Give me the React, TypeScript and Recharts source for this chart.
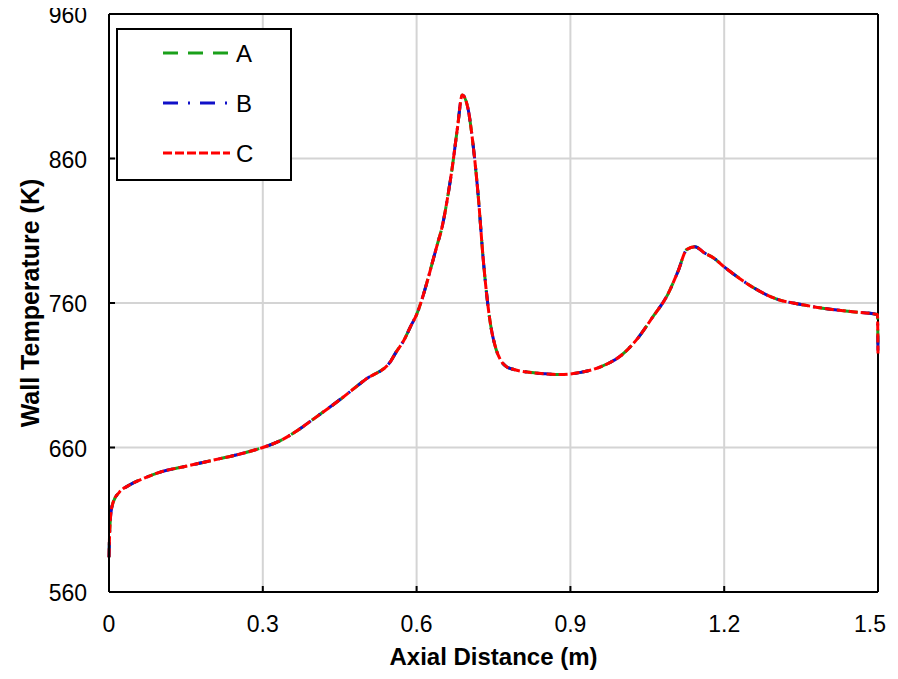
import { CartesianGrid, Label, Legend, Line, LineChart, ReferenceLine, XAxis, YAxis } from 'recharts';

// axial positions (m)
const distance = [
  0, 0.001, 0.003, 0.008, 0.02, 0.04, 0.07, 0.1, 0.15, 0.2, 0.25, 0.3, 0.33, 0.36, 0.4, 0.45, 0.5,
  0.55, 0.56, 0.575, 0.59, 0.6, 0.61, 0.62, 0.63, 0.64, 0.65, 0.66, 0.67, 0.68, 0.689, 0.7, 0.71,
  0.72, 0.73, 0.743, 0.755, 0.763, 0.775, 0.79, 0.82, 0.85, 0.88, 0.92, 0.96, 1.0, 1.03, 1.06,
  1.09, 1.11, 1.127, 1.143, 1.16, 1.18, 1.2, 1.23, 1.26, 1.3, 1.35, 1.4, 1.45, 1.499, 1.5,
];

// wall temperature (K) for each case
const caseA = [
  584, 598, 612, 622, 629, 634, 639, 643, 647, 651, 655, 660, 664, 670, 680, 693, 707,
  720, 726, 734, 745, 752, 762, 774, 787, 800, 813, 832, 855, 882, 904, 895, 870,
  835, 790, 748, 728, 721, 716, 714, 712, 711, 710.5, 712, 716, 724, 735, 750,
  766, 782, 797, 799, 795, 791, 785, 777, 770, 763, 759, 756, 754, 752, 725,
];
const caseB = [
  584, 598, 612, 622, 629, 634, 639, 643, 647, 651, 655, 660, 664, 670, 680, 693, 707,
  720, 726, 734, 745, 752, 762, 774, 787, 800, 813, 832, 855, 882, 904, 895, 870,
  835, 790, 748, 728, 721, 716, 714, 712, 711, 710.5, 712, 716, 724, 735, 750,
  766, 782, 797, 799, 795, 791, 785, 777, 770, 763, 759, 756, 754, 752, 725,
];
const caseC = [
  584, 598, 612, 622, 629, 634, 639, 643, 647, 651, 655, 660, 664, 670, 680, 693, 707,
  720, 726, 734, 745, 752, 762, 774, 787, 800, 813, 832, 855, 882, 904, 895, 870,
  835, 790, 748, 728, 721, 716, 714, 712, 711, 710.5, 712, 716, 724, 735, 750,
  766, 782, 797, 799, 795, 791, 785, 777, 770, 763, 759, 756, 754, 752, 725,
];

const xTicks = [0, 0.3, 0.6, 0.9, 1.2, 1.5];
const yTicks = [560, 660, 760, 860, 960];

const series = [
  { key: 'A', color: '#1aa01a', dash: '15 10' },
  { key: 'B', color: '#1010c8', dash: '15 10 2 10' },
  { key: 'C', color: '#ff0000', dash: '9 3' },
];

const data = distance.map((x, i) => ({ x, A: caseA[i], B: caseB[i], C: caseC[i] }));

const FONT = '"Liberation Sans", Arial, sans-serif';

const XTick = (props: any) => {
  const { x, y, payload } = props;
  const axisY = y - 32;
  // keep the last label inside the visible frame
  const tx = payload.value === xTicks[xTicks.length - 1] ? x - 8 : x;
  return (
    <g>
      <line x1={x} x2={x} y1={axisY} y2={axisY - 6} stroke="#000" strokeWidth={2} />
      <text x={tx} y={y} dy="0.36em" textAnchor="middle" fontSize={23} fontFamily={FONT} fill="#000">
        {payload.value}
      </text>
    </g>
  );
};

const YTick = (props: any) => {
  const { x, y, payload } = props;
  const axisX = x + 22;
  return (
    <g>
      <line x1={axisX} x2={axisX + 6} y1={y} y2={y} stroke="#000" strokeWidth={2} />
      <text x={x} y={y + 1} dy="0.36em" textAnchor="end" fontSize={23} fontFamily={FONT} fill="#000">
        {payload.value}
      </text>
    </g>
  );
};

const LegendBox = () => (
  <svg width={176} height={153} style={{ display: 'block' }}>
    <rect x={1} y={1} width={174} height={151} fill="#fff" stroke="#000" strokeWidth={2} />
    {series.map((s, i) => {
      const cy = 25 + i * 50;
      return (
        <g key={s.key}>
          <line x1={47} x2={114} y1={cy} y2={cy} stroke={s.color} strokeWidth={3} strokeDasharray={s.dash} />
          <text x={120} y={cy} dy="0.36em" fontSize={24} fontFamily={FONT} fill="#000">
            {s.key}
          </text>
        </g>
      );
    })}
  </svg>
);

export default function App() {
  return (
    <div style={{ margin: -8, width: 898, height: 679, background: '#fff' }}>
      <style>{'html,body{overflow:hidden}.recharts-surface{overflow:visible}'}</style>
      <LineChart
        width={898}
        height={679}
        data={data}
        margin={{ top: 14, right: 20, bottom: 0, left: 49 }}
      >
        <CartesianGrid stroke="#d4d4d4" strokeWidth={2} />
        <XAxis
          dataKey="x"
          type="number"
          domain={[0, 1.5]}
          ticks={xTicks}
          height={87}
          tickSize={0}
          tickMargin={32}
          tick={<XTick />}
          axisLine={{ stroke: '#000', strokeWidth: 2 }}
          tickLine={false}
          interval={0}
        >
          <Label
            content={(p: any) => (
              <text
                x={p.viewBox.x + p.viewBox.width / 2}
                y={p.viewBox.y + 64}
                dy="0.36em"
                textAnchor="middle"
                fontSize={24}
                fontWeight="bold"
                fontFamily={FONT}
                fill="#000"
              >
                Axial Distance (m)
              </text>
            )}
          />
        </XAxis>
        <YAxis
          type="number"
          domain={[560, 960]}
          ticks={yTicks}
          width={60}
          tickSize={0}
          tickMargin={22}
          tick={<YTick />}
          axisLine={{ stroke: '#000', strokeWidth: 2 }}
          tickLine={false}
          interval={0}
        >
          <Label
            content={(p: any) => {
              const cx = 30;
              const cy = p.viewBox.y + p.viewBox.height / 2;
              return (
                <text
                  x={cx}
                  y={cy}
                  dy="0.36em"
                  textAnchor="middle"
                  fontSize={25}
                  fontWeight="bold"
                  fontFamily={FONT}
                  fill="#000"
                  transform={`rotate(-90 ${cx} ${cy})`}
                >
                  Wall Temperature (K)
                </text>
              );
            }}
          />
        </YAxis>
        <ReferenceLine y={960} stroke="#000" strokeWidth={2} />
        <ReferenceLine x={1.5} stroke="#000" strokeWidth={2} />
        {series.map((s) => (
          <Line
            key={s.key}
            dataKey={s.key}
            type="monotone"
            stroke={s.color}
            strokeWidth={3}
            strokeDasharray={s.dash}
            dot={false}
            activeDot={false}
            isAnimationActive={false}
          />
        ))}
        <Legend
          layout="vertical"
          align="center"
          verticalAlign="middle"
          content={<LegendBox />}
          wrapperStyle={{ left: 116, top: 28, width: 176, height: 153 }}
        />
      </LineChart>
    </div>
  );
}
